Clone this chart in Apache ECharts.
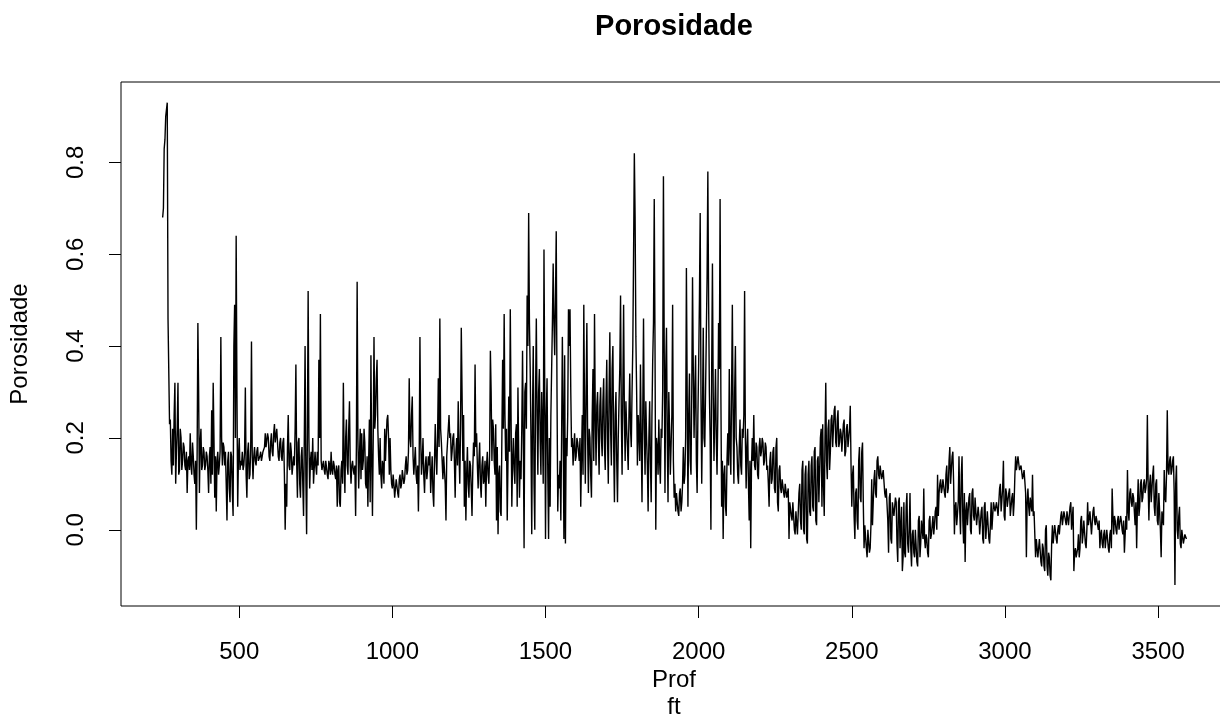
<!DOCTYPE html>
<html>
<head>
<meta charset="utf-8">
<script src="https://cdn.jsdelivr.net/npm/echarts@6/dist/echarts.min.js"></script>
<style>
  html, body { margin: 0; padding: 0; background: #fff; }
  #chart { width: 1220px; height: 718px; }
</style>
</head>
<body>
<div id="chart"></div>
<script>
// Porosity log sampled every 5 ft, split into depth blocks (start depth in ft).
// Each block also has a second set of readings half a step (2.5 ft) later.
const STEP_FT = 5;

const por0250 = [0.68,0.83,0.90,0.93,0.46,0.24,0.12,0.14,0.32,0.17,0.32,0.13,0.20,0.15,0.18,0.13,0.08,0.16,0.21,0.12,
  0.16,0.10,0.00,0.45,0.08,0.22,0.14,0.17,0.14,0.16,0.08,0.18,0.26,0.32,0.07,0.04,0.17,0.14,0.42,0.14,0.18];
const por0250b = [0.70,0.85,0.90,0.46,0.23,0.15,0.22,0.25,0.10,0.22,
  0.12,0.22,0.13,0.19,0.14,0.17,0.15,0.13,0.14,0.19,
  0.12,0.15,0.16,0.30,0.19,0.13,0.18,0.13,0.17,0.13,
  0.16,0.10,0.12,0.20,0.16,0.15,0.12,0.17,0.20,0.19,
  0.14];

const por0455 = [0.17,0.02,0.17,0.06,0.16,0.03,0.49,0.64,0.05,0.20,
  0.15,0.17,0.14,0.31,0.07,0.19,0.12,0.41,0.11,0.18,
  0.14,0.18,0.15,0.17,0.15,0.17,0.21,0.18,0.20,0.15,
  0.21,0.16,0.23,0.19,0.22,0.15,0.20,0.15,0.20,0.00,
  0.05,0.25,0.13,0.17,0.14];
const por0455b = [0.10,0.15,0.09,0.17,0.08,0.40,0.20,0.30,0.16,0.13,
  0.14,0.13,0.17,0.12,0.17,0.11,0.18,0.16,0.16,0.15,
  0.17,0.15,0.16,0.15,0.17,0.18,0.18,0.21,0.16,0.19,
  0.17,0.21,0.19,0.22,0.16,0.19,0.16,0.19,0.12,0.10,
  0.18,0.14,0.19,0.12,0.16];

const por0680 = [0.14,0.36,0.07,0.20,0.07,0.18,0.03,0.40,-0.01,0.52,
  0.09,0.17,0.20,0.10,0.14,0.17,0.37,0.47,0.13,0.15,
  0.12,0.15,0.11,0.14,0.17,0.12,0.14,0.11,0.05,0.14,
  0.05,0.15,0.32,0.08,0.24,0.12,0.28,0.10,0.15,0.12,
  0.03,0.54,0.09,0.22];
const por0680b = [0.22,0.15,0.19,0.10,0.16,0.10,0.20,0.12,0.20,0.20,
  0.15,0.13,0.10,0.17,0.12,0.14,0.20,0.15,0.14,0.13,
  0.15,0.12,0.15,0.12,0.13,0.15,0.12,0.14,0.13,0.06,
  0.13,0.10,0.15,0.20,0.14,0.22,0.14,0.14,0.13,0.14,
  0.18,0.20,0.16,0.11];

const por0900 = [0.21,0.15,0.19,0.09,0.05,0.24,0.38,0.03,0.42,0.25,
  0.37,0.16,0.20,0.09,0.14,0.22,0.20,0.25,0.12,0.13,
  0.09,0.10,0.07,0.11,0.07,0.12,0.10,0.13,0.11,0.16,
  0.13,0.33,0.18,0.29,0.12,0.18,0.10,0.04,0.42,0.12,
  0.20,0.08,0.16,0.13];
const por0900b = [0.13,0.22,0.10,0.16,0.15,0.06,0.15,0.20,0.22,0.33,
  0.22,0.12,0.12,0.15,0.10,0.15,0.24,0.20,0.20,0.10,
  0.12,0.07,0.11,0.08,0.11,0.09,0.13,0.10,0.14,0.12,
  0.17,0.20,0.25,0.16,0.15,0.12,0.14,0.15,0.20,0.15,
  0.12,0.14,0.11,0.16];

const por1120 = [0.14,0.08,0.16,0.05,0.23,0.12,0.33,0.46,0.19,0.11,
  0.16,0.02,0.19,0.25,0.21,0.17,0.21,0.07,0.20,0.28,
  0.10,0.44,0.15,0.05,0.02,0.18,0.07,0.14,0.03,0.19,
  0.36,0.21,0.09,0.19,0.07,0.16,0.11,0.05,0.17,0.10,
  0.39,0.15,0.22,0.12,0.02];
const por1120b = [0.17,0.12,0.08,0.15,0.16,0.20,0.18,0.22,0.15,0.16,
  0.10,0.16,0.22,0.20,0.15,0.20,0.15,0.17,0.14,0.17,
  0.22,0.30,0.25,0.15,0.12,0.10,0.15,0.09,0.13,0.16,
  0.18,0.14,0.15,0.10,0.14,0.10,0.15,0.14,0.12,0.16,
  0.30,0.24,0.15,0.23,0.18];

const por1345 = [-0.01,0.14,0.03,0.37,0.47,0.15,0.02,0.29,0.48,0.05,
  0.20,0.10,0.23,0.31,0.07,0.11,0.39,-0.04,0.32,0.51,
  0.69,0.35,-0.01,0.40,0.00,0.46,0.12,0.35,0.12,0.22,
  0.61,-0.02,0.33,-0.02,0.05,0.35,0.58,0.38,0.65,0.04,
  0.09,0.02,0.42,-0.02];
const por1345b = [0.12,0.04,0.20,0.22,0.25,0.22,0.15,0.17,0.25,0.15,
  0.13,0.21,0.05,0.16,0.15,0.22,0.20,0.30,0.22,0.40,
  0.45,0.20,0.25,0.10,0.30,0.25,0.30,0.20,0.30,0.10,
  0.30,0.25,0.12,0.20,0.25,0.45,0.45,0.50,0.30,0.12,
  0.15,0.20,0.25,0.38];

const por1565 = [-0.03,0.16,0.48,0.48,0.18,0.14,0.21,0.16,0.19,0.15,
  0.05,0.25,0.49,0.10,0.45,0.08,0.20,0.07,0.35,0.47,
  0.14,0.30,0.12,0.31,0.16,0.33,0.13,0.37,0.10,0.43,
  0.14,0.40,0.06,0.30,0.06,0.28,0.51,0.12,0.49,0.15,
  0.22,0.13,0.34,0.18,0.40];
const por1565b = [0.20,0.25,0.40,0.30,0.20,0.18,0.15,0.20,0.17,0.20,
  0.16,0.12,0.25,0.30,0.20,0.22,0.12,0.25,0.15,0.25,
  0.27,0.20,0.27,0.20,0.28,0.18,0.28,0.20,0.30,0.22,
  0.35,0.18,0.25,0.15,0.20,0.35,0.25,0.30,0.25,0.28,
  0.18,0.25,0.22,0.30,0.60];

const por1790 = [0.82,0.42,0.14,0.21,0.36,0.06,0.46,0.12,0.20,0.04,
  0.28,0.06,0.37,0.72,0.00,0.18,0.24,0.10,0.20,0.77,
  0.08,0.44,0.06,0.22,0.12,0.49,0.07,0.04,0.08,0.03,
  0.09,0.06,0.18,0.12,0.57,0.05,0.34,0.12,0.55,0.20,
  0.38,0.08,0.36,0.69];
const por1790b = [0.68,0.30,0.25,0.15,0.20,0.25,0.22,0.28,0.14,0.20,
  0.15,0.25,0.45,0.40,0.20,0.12,0.15,0.22,0.30,0.40,
  0.35,0.20,0.30,0.12,0.25,0.15,0.10,0.08,0.04,0.08,
  0.04,0.10,0.10,0.20,0.30,0.25,0.15,0.30,0.35,0.30,
  0.15,0.25,0.50,0.30];

const por2010 = [0.10,0.44,0.18,0.30,0.78,0.30,0.00,0.58,0.15,0.35,
  0.12,0.45,0.72,0.05,-0.02,0.14,0.03,0.21,0.35,0.12,
  0.49,0.10,0.40,0.18,0.10,0.24,0.12,0.20,0.52,0.09,
  0.22,0.02,-0.04,0.20,0.25,0.13,0.18,0.11,0.20,0.17,
  0.19,0.15,0.18,0.14];
const por2010b = [0.25,0.20,0.30,0.55,0.50,0.20,0.35,0.30,0.25,0.20,
  0.25,0.35,0.30,0.15,0.12,0.05,0.15,0.14,0.18,0.30,
  0.25,0.30,0.20,0.12,0.18,0.14,0.22,0.25,0.20,0.18,
  0.10,0.15,0.14,0.15,0.14,0.19,0.12,0.18,0.16,0.20,
  0.14,0.19,0.13,0.10];

const por2230 = [0.05,0.17,0.11,0.18,0.08,0.20,0.04,0.14,0.08,0.11,
  0.07,0.10,0.07,-0.02,0.06,0.02,0.06,-0.01,0.04,-0.01,
  0.10,0.00,0.15,-0.01,0.14,-0.03,0.15,0.03,0.16,0.04,
  0.18,0.01,0.16,0.06,0.22,0.23,0.03,0.32,0.11,0.24,
  0.17,0.25,0.18,0.27,0.18,0.26,0.19,0.21,0.17,0.24,
  0.17,0.23,0.18,0.27,0.05,0.14,-0.02,0.09,0.00,0.18,
  0.06,0.19,-0.04,0.01,-0.06,0.00,-0.04,0.11,0.01,0.13,
  0.07,0.16,0.11,0.14,0.11,0.13,0.07,0.09,-0.05,0.08,
  -0.03,0.06,0.03,0.06,-0.07,0.07,-0.04,-0.09,0.06,-0.06,
  0.08];
const por2230b = [0.15,0.10,0.17,0.09,0.18,0.06,0.13,0.09,0.11,0.08,
  0.10,0.07,0.09,0.06,0.03,0.06,0.00,0.04,-0.01,0.08,
  0.02,0.13,0.00,0.12,-0.02,0.12,0.04,0.14,0.05,0.17,
  0.02,0.15,0.06,0.20,0.05,0.10,0.20,0.15,0.22,0.13,
  0.24,0.18,0.26,0.19,0.24,0.18,0.22,0.17,0.23,0.16,
  0.22,0.18,0.22,0.14,0.12,0.03,0.08,0.02,0.15,0.07,
  0.17,0.06,0.01,-0.04,0.00,-0.05,0.01,0.01,0.11,0.08,
  0.15,0.12,0.14,0.11,0.13,0.08,0.09,0.02,0.07,-0.02,
  0.06,0.03,0.07,-0.03,0.06,-0.04,0.05,-0.06,-0.05,0.05,
  -0.03];

const por2685 = [-0.05,0.08,-0.08,0.00,-0.06,0.00,-0.08,0.03,-0.03,0.02,
  0.09,-0.04,-0.02,-0.06,0.03,-0.01,0.03,0.01,0.05,0.12,
  0.08,0.11,0.09,0.11,0.07,0.14,0.09,0.18,0.10,0.17,
  -0.01,0.06,0.01,0.16,-0.01,0.16,-0.03,-0.07,0.06,0.01,
  0.08,-0.01,0.09,0.02,0.07,0.01,0.03,-0.01,0.05,-0.03,
  0.06,-0.02,0.01,-0.03,0.06,0.00,0.06,0.04,0.06,0.03,
  0.10,0.04,0.15,0.02,0.08,0.05,0.09,0.03,0.08,0.06,
  0.16,0.13,0.16,0.13,0.14,0.11,0.13,-0.06,0.09,0.03,
  0.07,0.12,0.04,-0.06,-0.02,-0.06,-0.02,-0.08,-0.04,-0.09,
  0.01,-0.10,-0.06,-0.11];
const por2685b = [0.00,-0.04,-0.01,-0.05,0.00,-0.07,0.02,-0.06,0.02,-0.02,
  -0.02,-0.01,-0.05,0.02,-0.02,0.01,-0.01,0.04,0.00,0.03,
  0.10,0.08,0.11,0.08,0.12,0.08,0.15,0.10,0.16,0.10,
  0.05,0.01,0.06,0.04,0.12,0.02,0.08,0.04,0.01,0.07,
  0.00,0.08,0.03,0.07,0.01,0.05,-0.01,0.04,-0.02,0.05,
  -0.02,0.04,-0.02,0.01,0.00,0.06,0.04,0.06,0.03,0.09,
  0.04,0.09,0.03,0.09,0.05,0.08,0.03,0.07,0.03,0.12,
  0.13,0.16,0.13,0.14,0.11,0.13,0.08,0.06,0.05,0.07,
  0.04,0.03,-0.01,-0.02,-0.06,-0.02,-0.07,-0.03,-0.08,0.00,
  -0.08,-0.05,-0.10,-0.03];

const por3155 = [0.01,-0.03,0.01,-0.03,0.01,-0.01,0.04,0.01,0.04,0.01,
  0.04,0.01,0.06,0.00,-0.09,-0.04,-0.06,-0.01,-0.04,0.03,
  -0.01,0.02,-0.04,0.06,0.01,0.04,-0.01,0.05,0.01,0.03,
  0.00,-0.04,0.00,-0.04,0.00,-0.04,0.00,-0.05,0.00,0.09,
  -0.01,0.02,-0.01,0.03,0.00,0.02,-0.01,-0.05,0.03,0.13,
  0.02,0.09,0.05,0.07,0.01,-0.04,0.11,0.05,0.11,0.07,
  0.11,0.09,0.25,0.02,0.12,0.09,0.14,0.03,0.11,0.01,
  0.04,-0.06,0.04,0.13,0.06,0.26,0.12,0.16,0.13,0.16,
  -0.12,0.14,-0.02,0.05,-0.04,0.00,-0.03,-0.01];
const por3155b = [-0.03,0.01,-0.02,0.00,-0.01,0.03,0.01,0.04,0.02,0.04,
  0.01,0.05,0.00,0.05,-0.05,-0.06,-0.04,-0.06,0.02,-0.03,
  0.02,-0.03,0.00,0.01,0.04,-0.01,0.04,0.02,0.03,0.01,
  0.02,-0.01,-0.03,-0.01,-0.04,0.00,-0.04,-0.01,-0.04,0.03,
  0.03,0.00,0.02,0.00,0.03,0.00,0.02,-0.01,0.00,0.04,
  0.08,0.06,0.08,0.04,0.06,0.05,0.03,0.10,0.06,0.10,
  0.08,0.11,0.10,0.10,0.06,0.12,0.05,0.10,0.02,0.08,
  0.00,0.04,0.01,0.07,0.12,0.13,0.15,0.12,0.15,0.08,
  0.10,0.00,0.03,-0.03,0.00,-0.03,-0.01,-0.02];

const blockStarts = [250, 455, 680, 900, 1120, 1345, 1565, 1790, 2010, 2230, 2685, 3155];
const blockValues = [por0250, por0455, por0680, por0900, por1120, por1345, por1565, por1790, por2010, por2230, por2685, por3155];
const blockHalfStep = [por0250b, por0455b, por0680b, por0900b, por1120b, por1345b, por1565b, por1790b, por2010b, por2230b, por2685b, por3155b];

const xTicks = [500, 1000, 1500, 2000, 2500, 3000, 3500];
const yTicks = [0.0, 0.2, 0.4, 0.6, 0.8];

// depth / porosity pairs for the line, in depth order
const points = [];
blockStarts.forEach(function (start, b) {
  const half = blockHalfStep[b];
  blockValues[b].forEach(function (v, i) {
    const d = start + i * STEP_FT;
    points.push([d, v]);
    if (half) points.push([d + STEP_FT / 2, half[i]]);
  });
});

const FONT = '"Liberation Sans", Arial, sans-serif';
const chart = echarts.init(document.getElementById('chart'), null, { renderer: 'canvas' });

chart.setOption({
  animation: false,
  backgroundColor: '#ffffff',
  grid: {
    left: 121, top: 82, width: 1106, height: 524,
    outerBoundsMode: 'none', containLabel: false,
    show: true, borderColor: '#000', borderWidth: 1, backgroundColor: 'transparent'
  },
  xAxis: {
    type: 'value', min: 114, max: 3725,
    axisLine: { show: false, onZero: false },
    splitLine: { show: false },
    axisTick: { show: true, inside: false, length: 12, customValues: xTicks, lineStyle: { color: '#000', width: 1 } },
    axisLabel: {
      customValues: xTicks, margin: 34, color: '#000', fontSize: 24, fontFamily: FONT,
      formatter: function (v) { return String(v); }
    }
  },
  yAxis: {
    type: 'value', min: -0.166, max: 0.975,
    axisLine: { show: false, onZero: false },
    splitLine: { show: false },
    axisTick: { show: true, inside: false, length: 12, customValues: yTicks, lineStyle: { color: '#000', width: 1 } },
    axisLabel: {
      customValues: yTicks, rotate: 90, margin: 33, color: '#000', fontSize: 24, fontFamily: FONT,
      formatter: function (v) { return v.toFixed(1); }
    }
  },
  graphic: [
    { type: 'text', x: 674, y: 27,
      style: { text: 'Porosidade', font: 'bold 29px ' + FONT, fill: '#000', textAlign: 'center', textVerticalAlign: 'middle' } },
    { type: 'text', x: 674, y: 680,
      style: { text: 'Prof', font: '24px ' + FONT, fill: '#000', textAlign: 'center', textVerticalAlign: 'middle' } },
    { type: 'text', x: 674, y: 707,
      style: { text: 'ft', font: '24px ' + FONT, fill: '#000', textAlign: 'center', textVerticalAlign: 'middle' } },
    { type: 'text', rotation: Math.PI / 2, x: 20, y: 344,
      style: { text: 'Porosidade', font: '24px ' + FONT, fill: '#000', textAlign: 'center', textVerticalAlign: 'middle' } }
  ],
  series: [{
    type: 'line',
    data: points,
    showSymbol: false,
    symbol: 'none',
    sampling: null,
    lineStyle: { color: '#000', width: 1.4 },
    clip: true
  }]
});
</script>
</body>
</html>
